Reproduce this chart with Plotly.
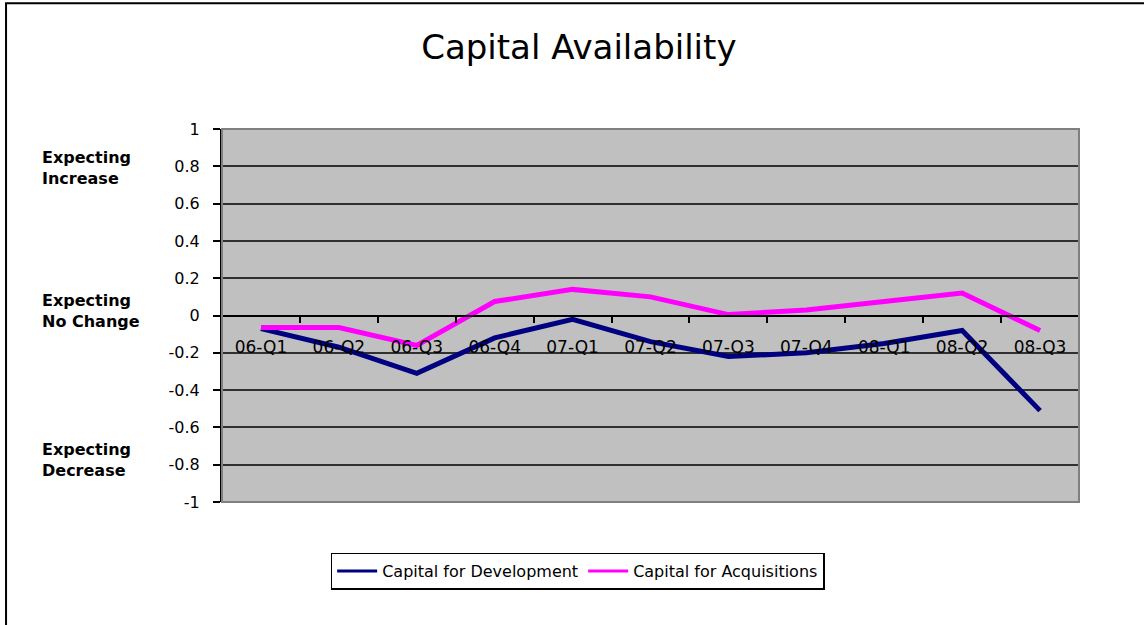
import plotly.graph_objects as go

# Survey quarters and net expectation scores
quarters = ["06-Q1", "06-Q2", "06-Q3", "06-Q4", "07-Q1", "07-Q2",
            "07-Q3", "07-Q4", "08-Q1", "08-Q2", "08-Q3"]
development = [-0.07, -0.17, -0.31, -0.12, -0.02, -0.14,
               -0.22, -0.20, -0.15, -0.08, -0.51]
acquisitions = [-0.065, -0.065, -0.16, 0.075, 0.14, 0.10,
                0.005, 0.03, 0.075, 0.12, -0.08]

series_names = ["Capital for Development", "Capital for Acquisitions"]
series_colors = ["#000080", "#FF00FF"]

y_ticks = [1, 0.8, 0.6, 0.4, 0.2, 0, -0.2, -0.4, -0.6, -0.8, -1]
y_tick_text = ["1", "0.8", "0.6", "0.4", "0.2", "0", "-0.2", "-0.4", "-0.6", "-0.8", "-1"]

# Side captions placed against the value scale
side_labels = ["Expecting<br>Increase", "Expecting<br>No Change", "Expecting<br>Decrease"]
side_label_y = [0.79, 0.025, -0.775]

FONT = "DejaVu Sans"

fig = go.Figure()
for name, color, values in zip(series_names, series_colors, [development, acquisitions]):
    # thick data line
    fig.add_trace(go.Scatter(
        x=quarters, y=values, mode="lines", name=name, showlegend=False,
        line=dict(color=color, width=5),
    ))
for name, color in zip(series_names, series_colors):
    # thinner legend key
    fig.add_trace(go.Scatter(
        x=[None], y=[None], mode="lines", name=name, showlegend=True,
        line=dict(color=color, width=3), hoverinfo="skip",
    ))

for txt, yv in zip(side_labels, side_label_y):
    fig.add_annotation(
        x=-0.212, y=yv, xref="paper", yref="y", text=f"<b>{txt}</b>",
        showarrow=False, xanchor="left", yanchor="middle", align="left",
        font=dict(family=FONT, size=16, color="black"),
    )

# Outer chart frame
fig.add_shape(type="rect", xref="paper", yref="paper",
              x0=-0.252, x1=1.2, y0=-0.5, y1=1.337,
              line=dict(color="black", width=2), layer="below")
# Plot area border
fig.add_shape(type="rect", xref="paper", yref="paper",
              x0=0, x1=1, y0=0, y1=1,
              line=dict(color="#808080", width=2), layer="above")

fig.update_layout(
    width=1144, height=625,
    margin=dict(l=222, r=65, t=129, b=123),
    paper_bgcolor="white",
    plot_bgcolor="#C0C0C0",
    font=dict(family=FONT, size=16, color="black"),
    title=dict(text="Capital Availability", x=0.506, xref="container",
               xanchor="center", y=0.925, yanchor="middle",
               font=dict(family=FONT, size=34, color="black")),
    showlegend=True,
    legend=dict(orientation="h", x=0.415, y=-0.185, xanchor="center",
                yanchor="middle", bordercolor="black", borderwidth=1.5,
                bgcolor="white", font=dict(family=FONT, size=16),
                itemwidth=40, tracegroupgap=0),
    xaxis=dict(
        type="category", anchor="free", position=0.5,
        showgrid=False, zeroline=False,
        showline=True, linecolor="black", linewidth=2,
        ticks="outside", ticklen=6, tickcolor="black", tickwidth=1.5,
        tickson="boundaries", tickfont=dict(family=FONT, size=17),
        ticklabelstandoff=16,
        range=[-0.5, len(quarters) - 0.5],
    ),
    yaxis=dict(
        range=[-1, 1], tickvals=y_ticks, ticktext=y_tick_text,
        showgrid=True, gridcolor="#303030", gridwidth=1.5,
        zeroline=False,
        showline=True, linecolor="black", linewidth=2,
        ticks="outside", ticklen=7, tickcolor="black", tickwidth=1.5,
        ticklabelstandoff=10, tickfont=dict(family=FONT, size=16),
    ),
)

fig.write_html("out.html")
